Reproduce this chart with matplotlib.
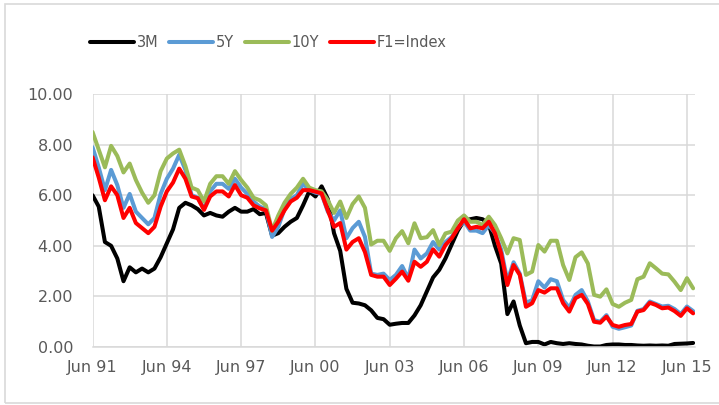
import numpy as np
import matplotlib.pyplot as plt
from matplotlib.patches import Rectangle

# quarterly observations, Jun 91 .. Sep 15
tick_labels = ["Jun 91", "Jun 94", "Jun 97", "Jun 00", "Jun 03",
               "Jun 06", "Jun 09", "Jun 12", "Jun 15"]

y3m = [6.0, 5.55, 4.15, 4.0, 3.5, 2.6, 3.15, 2.95, 3.1, 2.95,
       3.1, 3.55, 4.1, 4.65, 5.5, 5.7, 5.6, 5.45, 5.2, 5.3,
       5.2, 5.15, 5.35, 5.5, 5.35, 5.35, 5.45, 5.25, 5.3, 4.4,
       4.5, 4.75, 4.95, 5.1, 5.6, 6.15, 5.95, 6.35, 5.85, 4.5,
       3.8, 2.3, 1.75, 1.72, 1.65, 1.45, 1.15, 1.1, 0.88, 0.92,
       0.95, 0.95, 1.25, 1.65, 2.2, 2.75, 3.05, 3.5, 4.05, 4.6,
       5.0, 5.05, 5.1, 5.05, 4.85, 4.0, 3.3, 1.3, 1.8, 0.85,
       0.15, 0.2, 0.2, 0.1, 0.2, 0.15, 0.12, 0.15, 0.12, 0.1,
       0.05, 0.02, 0.02, 0.08, 0.1, 0.1, 0.08, 0.08, 0.06, 0.05,
       0.06, 0.05, 0.06, 0.05, 0.12, 0.13, 0.14, 0.16]

y5y = [7.9, 7.1, 6.2, 7.0, 6.4, 5.5, 6.05, 5.35, 5.1, 4.85,
       5.1, 6.05, 6.65, 7.05, 7.6, 7.0, 6.0, 5.9, 5.45, 6.15,
       6.45, 6.45, 6.25, 6.65, 6.3, 6.05, 5.75, 5.55, 5.45, 4.35,
       4.75, 5.45, 5.85, 6.0, 6.45, 6.2, 6.1, 6.05, 5.35, 5.0,
       5.4, 4.3, 4.7, 4.95, 4.35, 2.9, 2.85, 2.9, 2.65, 2.85,
       3.2, 2.7, 3.85, 3.5, 3.7, 4.15, 3.85, 4.15, 4.35, 4.7,
       4.97, 4.6, 4.6, 4.5, 4.82, 4.5, 3.85, 2.6, 3.35, 2.9,
       1.75, 1.85, 2.6, 2.35, 2.68, 2.6, 1.86, 1.55, 2.06, 2.25,
       1.8, 1.06, 1.0, 1.26, 0.8, 0.72, 0.78, 0.85, 1.43, 1.5,
       1.8, 1.7, 1.6, 1.63, 1.5, 1.3, 1.6, 1.42]

y10y = [8.5, 7.8, 7.1, 7.95, 7.55, 6.9, 7.25, 6.6, 6.1, 5.7,
        6.0, 6.95, 7.45, 7.65, 7.8, 7.15, 6.3, 6.2, 5.75, 6.45,
        6.75, 6.75, 6.45, 6.95, 6.6, 6.3, 5.9, 5.8, 5.6, 4.6,
        5.2, 5.7, 6.05, 6.3, 6.65, 6.3, 6.2, 6.15, 5.8, 5.3,
        5.75, 5.1, 5.65, 5.95, 5.5, 4.05, 4.2, 4.2, 3.8, 4.3,
        4.58, 4.1, 4.89, 4.3, 4.34, 4.62, 4.03, 4.49, 4.56, 5.0,
        5.2, 4.95, 4.95, 4.82, 5.15, 4.82, 4.3, 3.7, 4.3, 4.23,
        2.85, 2.98, 4.03, 3.77, 4.2, 4.2, 3.24, 2.65, 3.55, 3.74,
        3.3, 2.06, 1.99, 2.28, 1.7, 1.59, 1.75, 1.86, 2.68, 2.78,
        3.31, 3.11, 2.9, 2.87, 2.58, 2.25, 2.72, 2.32]

yf1 = [7.5, 6.7, 5.8, 6.35, 6.0, 5.1, 5.5, 4.9, 4.7, 4.5,
       4.75, 5.55, 6.15, 6.5, 7.05, 6.65, 5.95, 5.88, 5.42, 5.95,
       6.15, 6.15, 5.95, 6.4, 6.0, 5.9, 5.6, 5.48, 5.4, 4.6,
       4.95, 5.4, 5.75, 5.9, 6.2, 6.2, 6.14, 6.07, 5.4, 4.75,
       4.9, 3.85, 4.15, 4.3, 3.75, 2.85, 2.78, 2.78, 2.45, 2.7,
       2.98, 2.62, 3.37, 3.17, 3.37, 3.86, 3.57, 4.03, 4.3, 4.69,
       5.05, 4.69, 4.75, 4.69, 4.95, 4.49, 3.7, 2.45, 3.24, 2.85,
       1.59, 1.73, 2.25, 2.15, 2.32, 2.32, 1.73, 1.4, 1.93, 2.06,
       1.7, 1.0, 0.96, 1.2, 0.87, 0.8, 0.87, 0.91, 1.4, 1.46,
       1.75, 1.66, 1.53, 1.56, 1.42, 1.23, 1.53, 1.33]

series = [("3M", y3m, "#000000"), ("5Y", y5y, "#5B9BD5"),
          ("10Y", y10y, "#9BBB59"), ("F1=Index", yf1, "#FF0000")]

fig = plt.figure(figsize=(7.19, 4.05), dpi=100)
ax = fig.add_axes([0.1287, 0.1432, 0.8379, 0.6247])

x = np.arange(len(y3m))
for name, vals, col in series:
    ax.plot(x, vals, color=col, lw=2.9, label=name,
            solid_joinstyle="round", solid_capstyle="round")

ax.set_xlim(0, 97.3)
ax.set_ylim(0, 10)
ax.set_xticks(np.arange(0, 97, 12))
ax.set_xticklabels(tick_labels)
ax.set_yticks(np.arange(0, 10.1, 2))
ax.set_yticklabels([f"{v:.2f}" for v in np.arange(0, 10.1, 2)])
ax.tick_params(length=0, labelsize=11.5, labelcolor="#595959")
ax.tick_params(axis="y", pad=14)
ax.tick_params(axis="x", pad=9)

ax.grid(True, color="#d9d9d9", lw=1.1)
ax.set_axisbelow(True)
for s in ["top", "right", "left"]:
    ax.spines[s].set_visible(False)
ax.spines["bottom"].set_color("#d9d9d9")
ax.spines["bottom"].set_linewidth(1.1)

leg = fig.legend(loc="center", bbox_to_anchor=(0.3734, 0.896), ncol=4,
                 frameon=False, fontsize=10.5, handlelength=3.0,
                 handletextpad=0.2, columnspacing=0.75)
for t in leg.get_texts():
    t.set_color("#595959")

# chart area border (right edge falls outside the picture)
fig.patches.append(Rectangle((5 / 719, 0.005), 1.1, 0.986, transform=fig.transFigure,
                             fill=False, edgecolor="#d9d9d9", lw=1.2))

fig.savefig("out.png", dpi=100)
